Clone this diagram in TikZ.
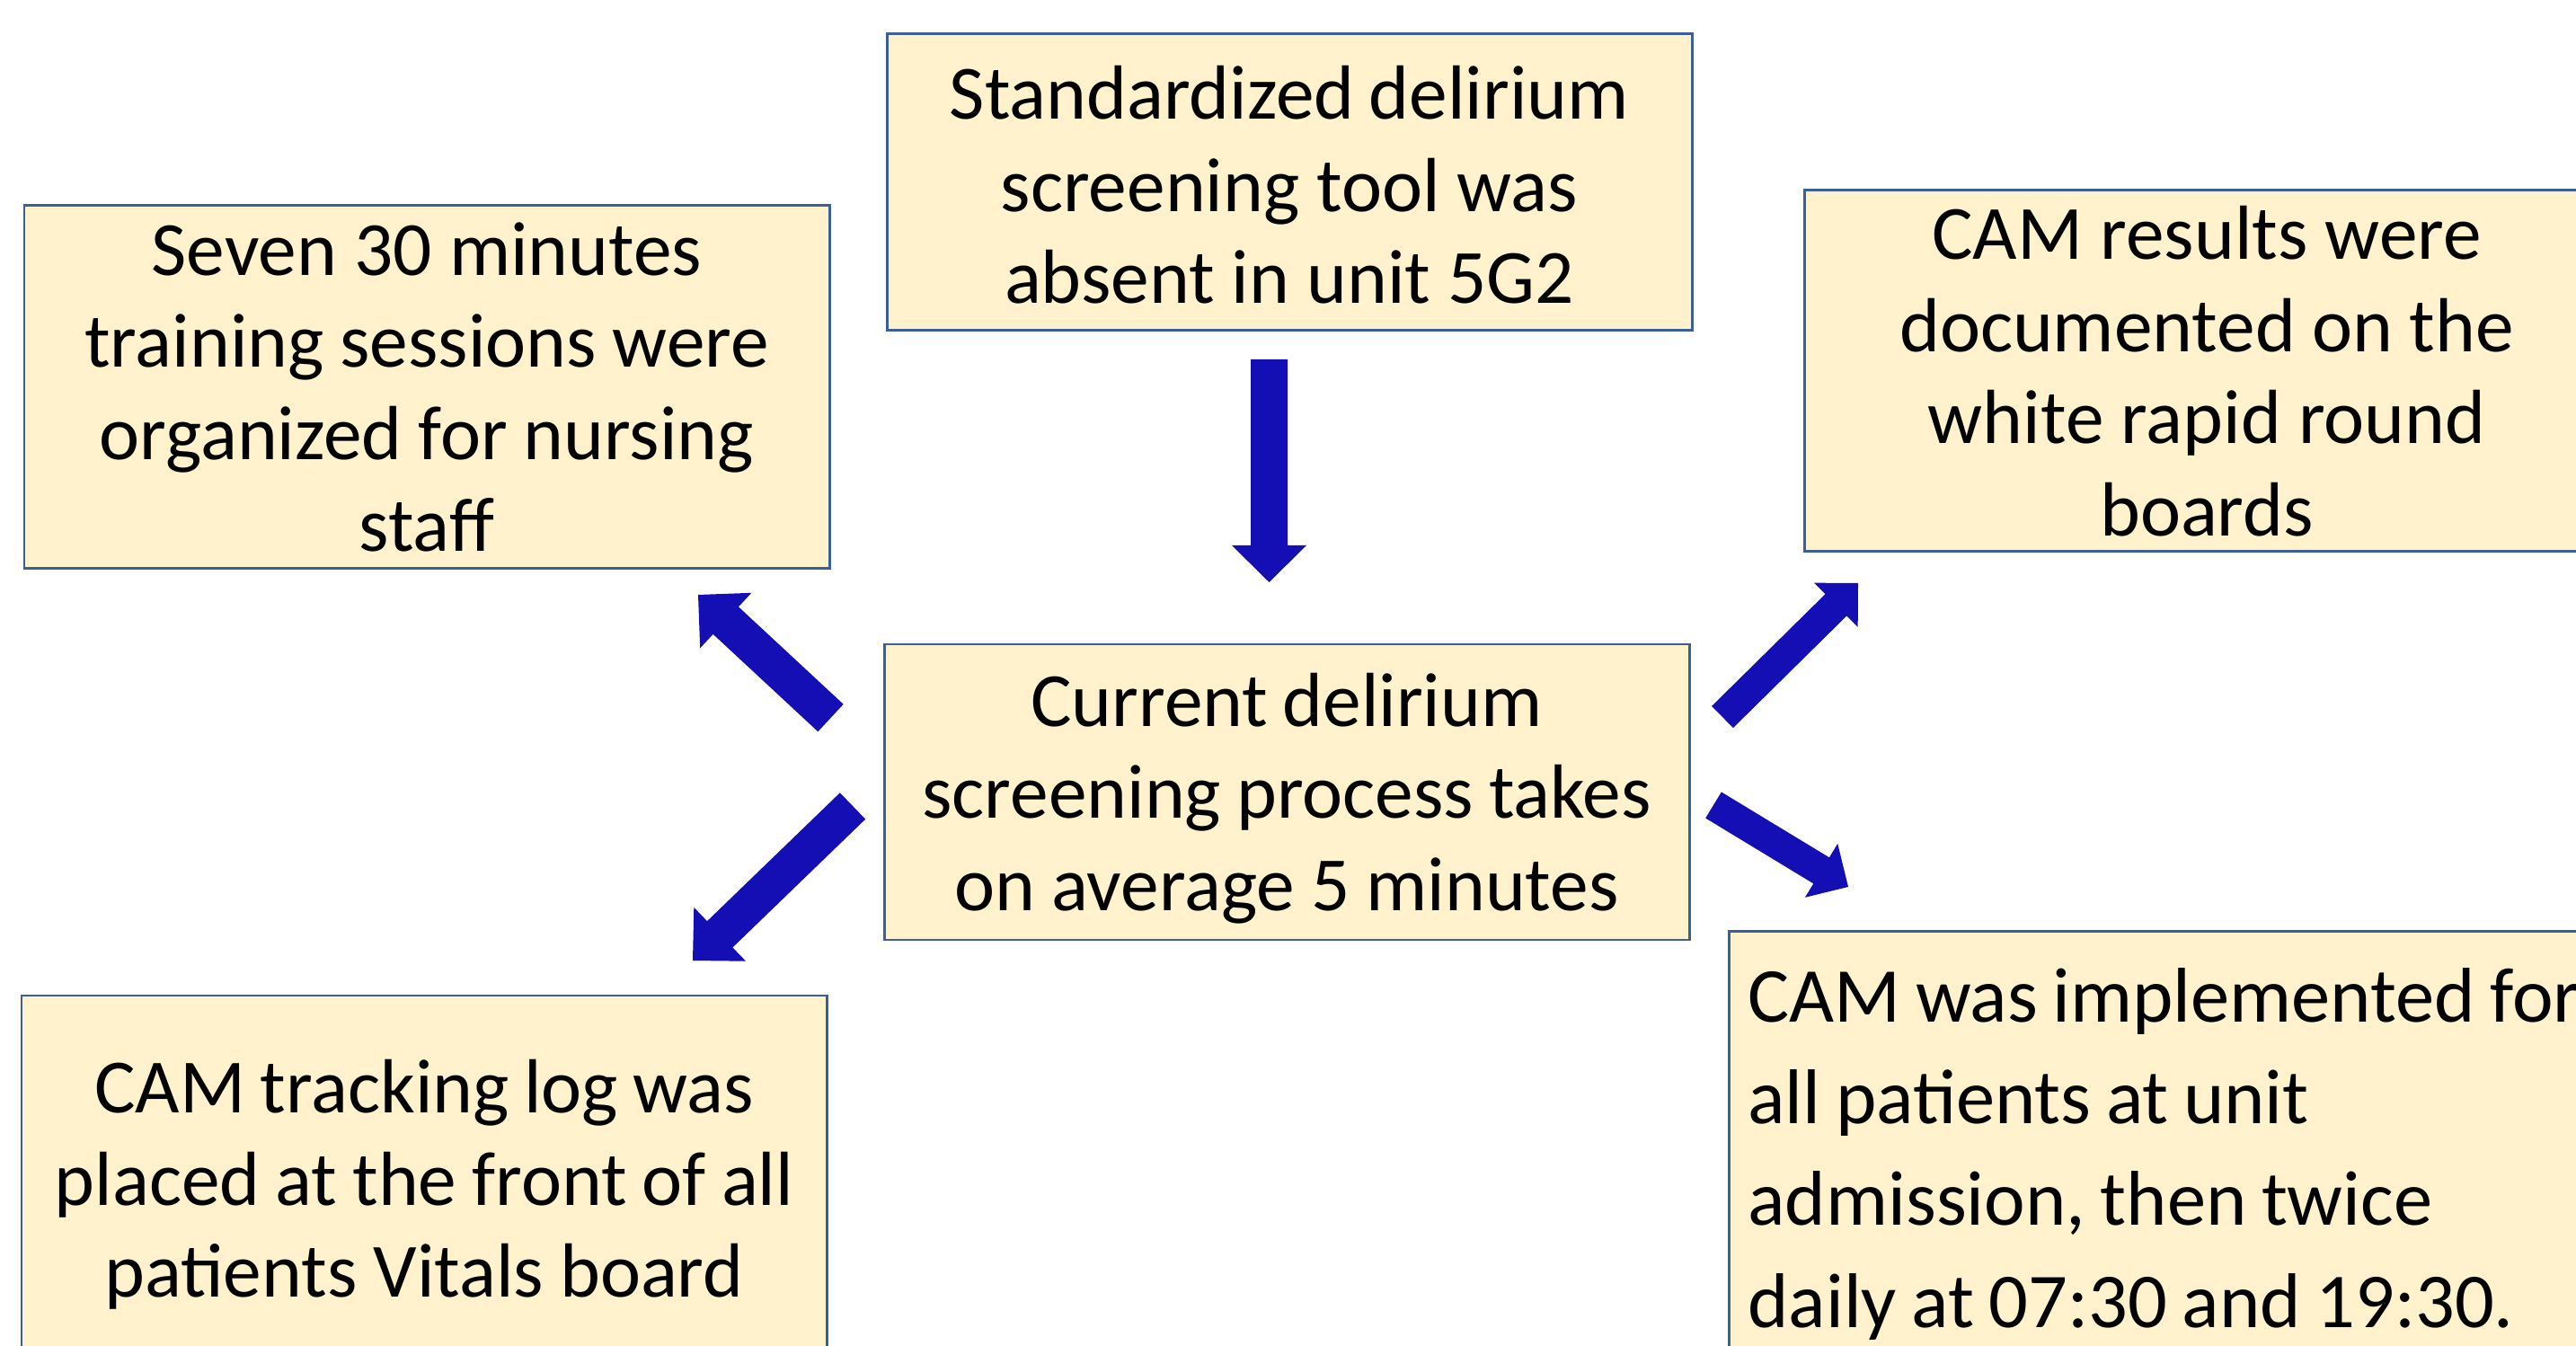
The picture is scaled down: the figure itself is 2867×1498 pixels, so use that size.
\documentclass[tikz,border=0pt]{standalone}
\usepackage{fontspec}
\setmainfont{Carlito}
\usetikzlibrary{calc}
\definecolor{boxfill}{HTML}{FFF2CC}
\definecolor{boxline}{HTML}{3A5F9A}
\definecolor{arrowfill}{HTML}{140FB4}
\newcommand\boxfontA{\fontsize{24.3}{29.2}\selectfont}
\newcommand\boxfontB{\fontsize{24.6}{32.2}\selectfont}
\newcommand\tightsp{\spaceskip=4.7pt plus 1pt minus 1pt\relax}
\newcommand\firstdown[2]{\raisebox{0pt}[\dimexpr\height+#1\relax]{#2}}
\tikzset{
  box/.style={draw=boxline, fill=boxfill, line width=0.85pt, rectangle,
    minimum width=89.6mm, text width=88mm, align=center, inner sep=0pt,
    font=\boxfontA},
}
% tail, tip, shaft half width, head half width, head length
\newcommand\blockarrow[5]{%
  \coordinate (bah) at ($(#2)!#5!(#1)$);
  \fill[arrowfill] ($(#1)!#3!90:(#2)$) -- ($(bah)!#3!90:(#2)$) -- ($(bah)!#4!90:(#2)$)
    -- (#2) -- ($(bah)!#4!-90:(#2)$) -- ($(bah)!#3!-90:(#2)$) -- ($(#1)!#3!-90:(#2)$) -- cycle;
}
\begin{document}
\begin{tikzpicture}[x=0.1mm, y=-0.1mm]
\useasboundingbox (0,0) rectangle (2867,1498);
\clip (0,0) rectangle (2867,1498);

\node[box, minimum height=33mm] (top) at (1435,203)
  {\tightsp\firstdown{0.6mm}{Standardized delirium}\\screening tool was\\absent in unit 5G2};
\node[box, minimum height=40.4mm] (tl) at (475,431)
  {\tightsp Seven 30 minutes\\training sessions were\\organized for nursing\\staff};
\node[box, minimum height=40.2mm] (tr) at (2456,413)
  {\tightsp CAM results were\\documented on the\\white rapid round\\boards};
\node[box, minimum height=32.9mm] (mid) at (1432,881.5)
  {\tightsp\firstdown{1.4mm}{Current delirium}\\screening process takes\\on average 5 minutes};
\node[box, minimum height=41mm] (bl) at (472,1313)
  {\tightsp\firstdown{1.1mm}{CAM tracking log was}\\placed at the front of all\\patients Vitals board};
\node[box, anchor=north west, minimum width=100mm,
  text width=110mm, align=left, inner xsep=2.1mm, inner ysep=4.1mm,
  font=\boxfontB] (br) at (1923,1035)
  {\tightsp CAM was implemented for\\all patients at unit\\admission, then twice\\daily at 07:30 and 19:30.};

\coordinate (a1t) at (1412.5,400);  \coordinate (a1h) at (1412.5,648);
\coordinate (a2t) at (924.5,799);   \coordinate (a2h) at (777,662);
\coordinate (a3t) at (1917,798);    \coordinate (a3h) at (2068,649);
\coordinate (a4t) at (1907,896);    \coordinate (a4h) at (2057,987);
\coordinate (a5t) at (949,897);     \coordinate (a5h) at (771,1069);

\blockarrow{a1t}{a1h}{2.05mm}{4.15mm}{4.1mm}
\blockarrow{a2t}{a2h}{2.08mm}{4.2mm}{4.2mm}
\blockarrow{a3t}{a3h}{1.7mm}{3.46mm}{3.46mm}
\blockarrow{a4t}{a4h}{1.7mm}{3.5mm}{3.5mm}
\blockarrow{a5t}{a5h}{2.04mm}{4.16mm}{4.2mm}
\end{tikzpicture}
\end{document}
